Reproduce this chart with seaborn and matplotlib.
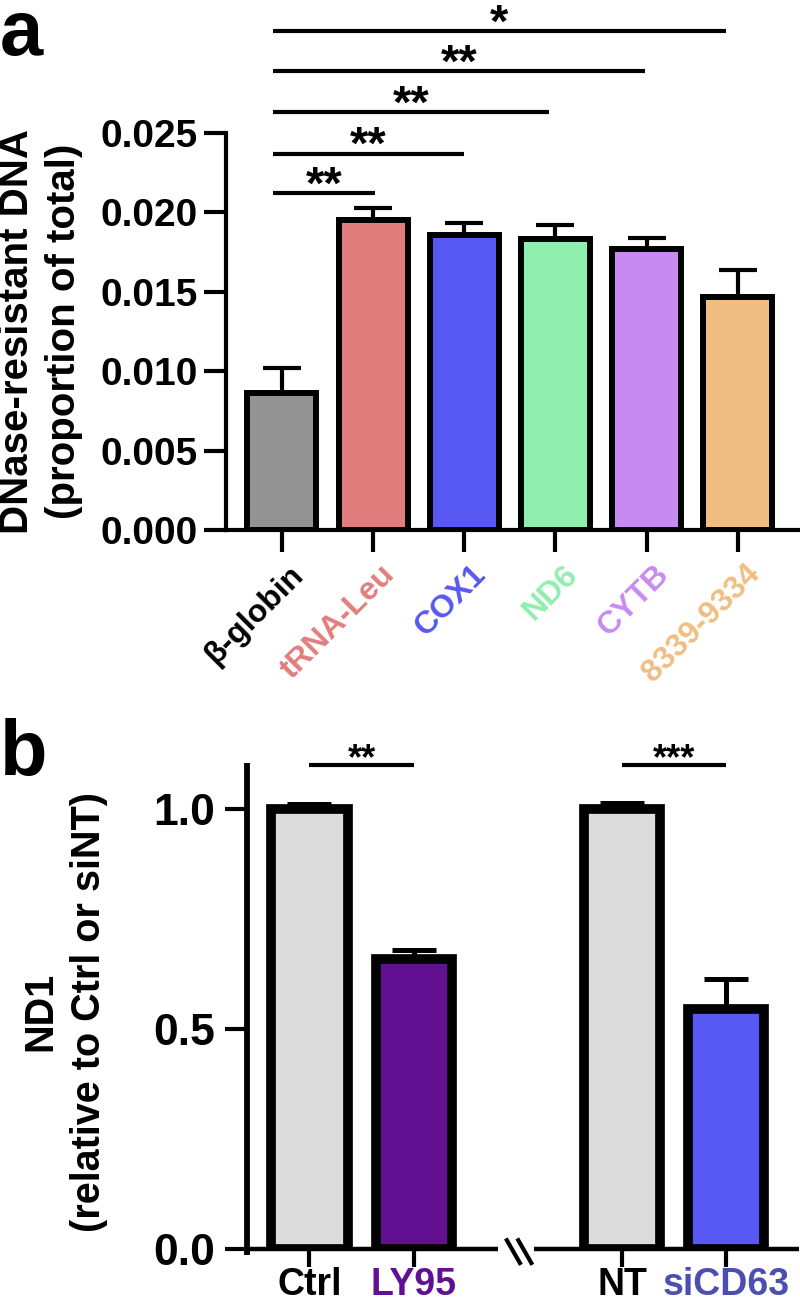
import numpy as np
import pandas as pd
import matplotlib
matplotlib.use("Agg")
import matplotlib.pyplot as plt
import matplotlib.transforms as mtrans
import seaborn as sns

# ---------------- data ----------------
genes = ["β-globin", "tRNA-Leu", "COX1", "ND6", "CYTB", "8339-9334"]
dna_values = [0.0086, 0.0195, 0.0186, 0.0183, 0.0177, 0.0147]
dna_errors = [0.0016, 0.0008, 0.00075, 0.0009, 0.0007, 0.0017]
bar_colors_a = ["#939393", "#e27d7d", "#5858f2", "#90eeaf", "#c78af2", "#f0be82"]
label_colors_a = ["#000000", "#e27d7d", "#5858f2", "#90eeaf", "#c78af2", "#f0be82"]
sig_a_targets = ["tRNA-Leu", "COX1", "ND6", "CYTB", "8339-9334"]
sig_a_labels = ["**", "**", "**", "**", "*"]
sig_a_heights = [0.0212, 0.0237, 0.0263, 0.0289, 0.0314]
a_yticks = [0.000, 0.005, 0.010, 0.015, 0.020, 0.025]

conds = ["Ctrl", "LY95", "NT", "siCD63"]
cond_pos = [0, 1, 3, 4]
nd1_values = [1.0, 0.66, 1.0, 0.545]
nd1_errors = [0.012, 0.02, 0.015, 0.07]
bar_colors_b = ["#dcdcdc", "#621092", "#dcdcdc", "#5858f2"]
label_colors_b = ["#000000", "#621092", "#000000", "#4b4fb0"]
sig_b_pairs = [("Ctrl", "LY95"), ("NT", "siCD63")]
sig_b_labels = ["**", "***"]
sig_b_height = 1.10
b_yticks = [0.0, 0.5, 1.0]

# ---------------- style ----------------
sns.set_style("ticks")
plt.rcParams["font.family"] = ["Liberation Sans", "DejaVu Sans"]
plt.rcParams["font.weight"] = "bold"
plt.rcParams["axes.labelweight"] = "bold"
for k in ["text.color", "axes.labelcolor", "xtick.color", "ytick.color",
          "axes.edgecolor"]:
    plt.rcParams[k] = "black"

W, H = 800, 1311
fig = plt.figure(figsize=(W / 100, H / 100), dpi=100)


def frac(x0, y0, x1, y1):
    return [x0 / W, 1 - y1 / H, (x1 - x0) / W, (y1 - y0) / H]


# ---------------- panel a ----------------
ax_a = fig.add_axes(frac(226, 133, 798, 530))
df_a = pd.DataFrame({"gene": genes, "value": dna_values})
sns.barplot(data=df_a, x="gene", y="value", hue="gene",
            palette=dict(zip(genes, bar_colors_a)), legend=False,
            saturation=1, width=0.757, edgecolor="black", linewidth=4.3,
            errorbar=None, ax=ax_a, zorder=3)
xa = np.arange(len(genes))
ax_a.errorbar(xa, dna_values, yerr=[np.zeros(len(genes)), dna_errors],
              fmt="none", ecolor="black", elinewidth=3, capsize=13.5,
              capthick=3, zorder=2)
ax_a.set_xlim(-0.614, 5.66)
ax_a.set_ylim(0, 0.025)
sns.despine(ax=ax_a)
ax_a.set_yticks(a_yticks)
ax_a.set_yticklabels([f"{v:.3f}" for v in a_yticks])
ax_a.tick_params(axis="both", length=16, width=3, color="black")
ax_a.tick_params(axis="y", labelsize=28, pad=4)
ax_a.set_xticks(xa)
ax_a.set_xticklabels(genes, rotation=45, ha="right", rotation_mode="anchor",
                     fontsize=23, fontweight="bold")
ax_a.tick_params(axis="x", pad=5)
shift = mtrans.ScaledTranslation(0.07, 0, fig.dpi_scale_trans)
for lab, c in zip(ax_a.get_xticklabels(), label_colors_a):
    lab.set_color(c)
    lab.set_transform(lab.get_transform() + shift)
ax_a.set_xlabel("")
ax_a.set_ylabel("DNase-resistant DNA\n(proportion of total)", fontsize=29,
                fontweight="bold", linespacing=1.3, va="center")
ax_a.yaxis.set_label_coords(-0.325, 0.5)

end_shift = [0.02, 0.0, -0.07, -0.02, -0.13]
for tgt, lab, h, sh in zip(sig_a_targets, sig_a_labels, sig_a_heights, end_shift):
    x1 = genes.index(tgt) + sh
    x0 = -0.1
    ax_a.plot([x0, x1], [h, h], color="black", lw=3, clip_on=False,
              solid_capstyle="butt")
    ax_a.annotate(lab, xy=((x0 + x1) / 2, h), xytext=(0, -4),
                  textcoords="offset points", ha="center", va="baseline",
                  fontsize=34, fontweight="bold", annotation_clip=False)

fig.text(0.0, 1 - 55 / H, "a", fontsize=56, fontweight="bold",
         ha="left", va="baseline")

# ---------------- panel b ----------------
ax_b = fig.add_axes(frac(247, 763, 799, 1249))
df_b = pd.DataFrame({"pos": cond_pos, "value": nd1_values, "cond": conds})
sns.barplot(data=df_b, x="pos", y="value", hue="cond",
            palette=dict(zip(conds, bar_colors_b)), native_scale=True,
            legend=False, saturation=1, width=0.73, edgecolor="black",
            linewidth=7, errorbar=None, ax=ax_b, zorder=3)
ax_b.errorbar(cond_pos, nd1_values, yerr=[np.zeros(len(conds)), nd1_errors],
              fmt="none", ecolor="black", elinewidth=3.6, capsize=16,
              capthick=3.6, zorder=2)
ax_b.set_xlim(-0.6, 4.70)
ax_b.set_ylim(0, 1.105)
sns.despine(ax=ax_b, left=True, bottom=True)
ax_b.set_yticks(b_yticks)
ax_b.set_yticklabels([f"{v:.1f}" for v in b_yticks])
ax_b.tick_params(axis="y", left=True, length=16, width=3, color="black",
                 labelsize=32, pad=7)
ax_b.set_xticks(cond_pos)
ax_b.set_xticklabels(conds, fontsize=27, fontweight="bold")
ax_b.tick_params(axis="x", bottom=True, length=13, width=3, color="black",
                 pad=0)
for lab, c in zip(ax_b.get_xticklabels(), label_colors_b):
    lab.set_color(c)
ax_b.set_xlabel("")
ax_b.set_ylabel("ND1\n(relative to Ctrl or siNT)", fontsize=28.5,
                fontweight="bold", linespacing=1.35, va="center")
ax_b.yaxis.set_label_coords(-0.33, 0.488)

# y axis line and broken x axis
ax_b.plot([0, 0], [-0.012, 1], color="black", lw=4.2,
          transform=ax_b.transAxes, clip_on=False, solid_capstyle="butt",
          zorder=6)
xt = ax_b.get_xaxis_transform()
ax_b.plot([-0.6, 1.81], [0, 0], color="black", lw=3.2, transform=xt,
          clip_on=False, solid_capstyle="butt", zorder=5)
ax_b.plot([2.16, 4.70], [0, 0], color="black", lw=3.2, transform=xt,
          clip_on=False, solid_capstyle="butt", zorder=5)
for bx in [1.885, 1.995]:
    ax_b.plot([bx, bx + 0.145], [0.024, -0.036], color="black", lw=3,
              clip_on=False, solid_capstyle="butt")

for (c0, c1), lab in zip(sig_b_pairs, sig_b_labels):
    x0 = cond_pos[conds.index(c0)]
    x1 = cond_pos[conds.index(c1)]
    ax_b.plot([x0, x1], [sig_b_height, sig_b_height], color="black", lw=3,
              clip_on=False, solid_capstyle="butt")
    ax_b.annotate(lab, xy=((x0 + x1) / 2, sig_b_height), xytext=(0, -3),
                  textcoords="offset points", ha="center", va="baseline",
                  fontsize=26, fontweight="bold", annotation_clip=False)

fig.text(0.0, 1 - 775 / H, "b", fontsize=56, fontweight="bold",
         ha="left", va="baseline")

for s in ["left", "bottom"]:
    ax_a.spines[s].set_linewidth(3)
    ax_a.spines[s].set_color("black")

fig.savefig("out.png", dpi=100)
